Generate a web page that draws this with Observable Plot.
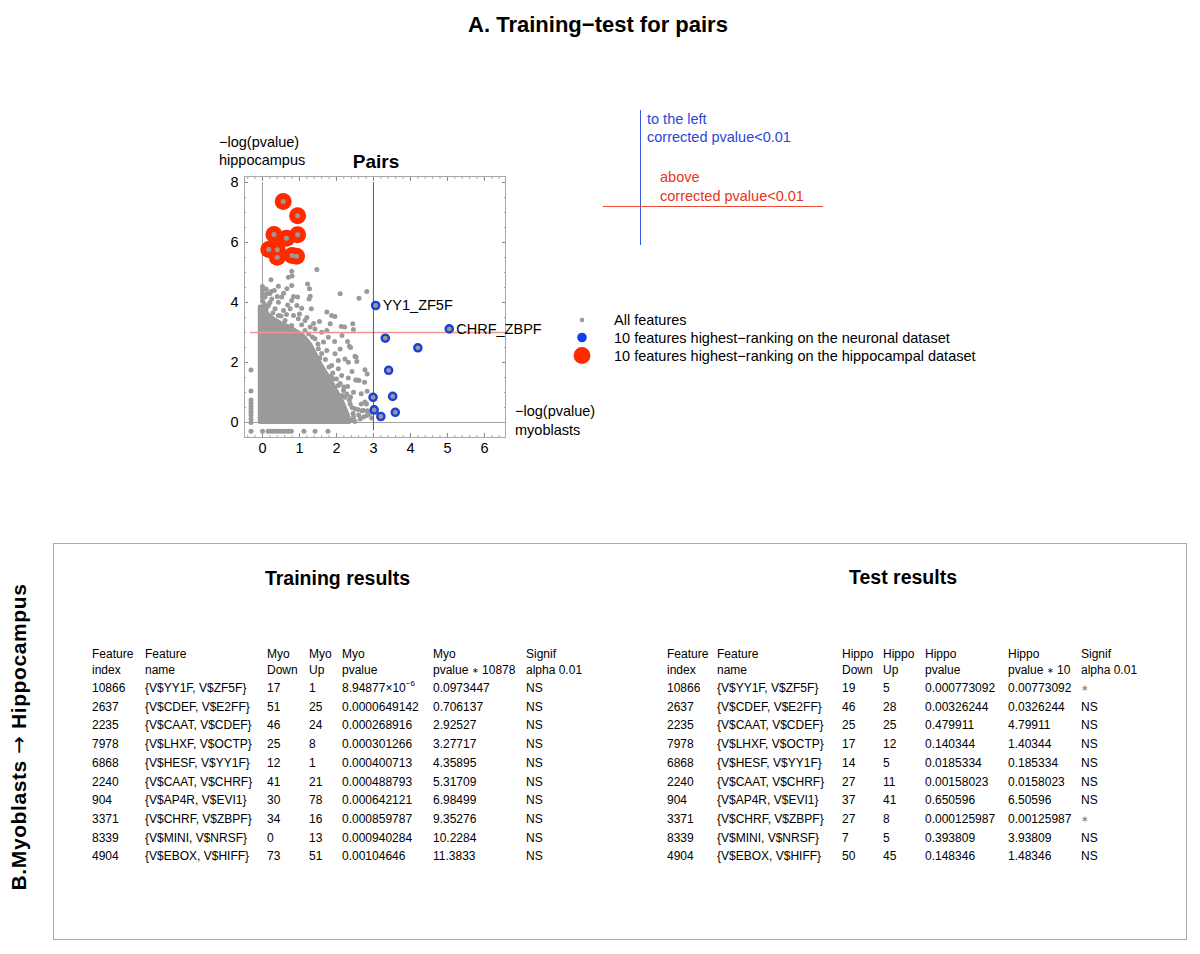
<!DOCTYPE html>
<html><head><meta charset="utf-8">
<script src="https://cdn.jsdelivr.net/npm/d3@7"></script>
<script src="https://cdn.jsdelivr.net/npm/@observablehq/plot@0.6"></script>
<style>
body{margin:0;background:#fff;font-family:"Liberation Sans",Arial,Helvetica,sans-serif;color:#000;}
#page{position:relative;width:1200px;height:954px;overflow:hidden;background:#fff;}
.t{position:absolute;white-space:nowrap;line-height:1;}
#plotA{position:absolute;left:200px;top:130px;}
#overlay{position:absolute;left:0;top:0;}
.ast{font-size:8px;vertical-align:1px;}
.arr{font-family:"DejaVu Sans",sans-serif;font-weight:normal;}
</style></head><body><div id="page"></div>
<script>
// ---------- Panel A data ----------
const xTicks = [0, 1, 2, 3, 4, 5, 6];
const yTicks = [0, 2, 4, 6, 8];
const thresholdX = 3;   // -log(p) myoblasts, corrected p < 0.01
const thresholdY = 3;   // -log(p) hippocampus, corrected p < 0.01

// dense core of "All features" (outline of the solid cloud)
const coreX   = [-0.06, 0.05, 0.15, 0.3, 0.5, 0.7, 0.9, 1.1, 1.3, 1.45, 1.6, 1.75, 1.9, 2.05, 2.2, 2.3, 2.36];
const coreTop = [3.85, 3.85, 3.6, 3.45, 3.3, 3.2, 3.05, 2.9, 2.6, 2.25, 1.9, 1.6, 1.3, 0.95, 0.6, 0.3, 0.08];

// individual "All features" points outside the core
const allFeatures = [
  [0,4.53],[0,4.42],[0,4.29],[0,4.18],[0,4.05],[0.1,4.45],[0.12,4.3],[0.05,3.95],[0.2,4.0],[0.1,3.8],
  [0.23,4.76],[0.23,4.37],[0.32,4.4],[0.43,4.54],[0.66,4.46],[0.7,4.84],[0.79,5.04],[0.79,4.57],[0.8,4.88],
  [1.22,4.62],[1.27,4.46],[1.47,5.1],[0.57,4.31],[0.52,4.18],[0.84,4.2],[0.95,4.18],[1.29,4.21],[1.26,4.12],
  [0.25,4.12],[0.07,4.18],[0.43,4.01],[0.68,3.92],[0.79,4.07],[0.93,3.9],[0.16,3.9],[0.34,3.79],[0.57,3.73],
  [0.75,3.79],[1.06,3.81],[1.32,3.79],[1.74,3.68],[1.87,3.57],[1.96,3.53],[1.54,3.37],[1.83,3.29],[1.06,3.26],
  [1.29,3.18],[2.13,3.2],[2.22,3.18],[2.44,3.29],[2.46,3.1],[2.1,4.29],[2.82,4.37],[2.61,4.14],[0.84,3.57],
  [0.97,3.46],[1.15,3.4],[0.61,3.4],[0.43,3.57],[0.79,3.23],[1.42,3.12],[1.6,3.01],[1.74,3.07],[1.15,3.07],
  [0.28,3.65],[0.5,3.55],[0.65,3.6],[1.0,3.62],[1.2,3.5],[1.38,3.3],[0.2,4.3],[0.4,4.2],
  [1.42,2.79],[1.65,2.68],[1.78,2.84],[1.51,2.46],[1.74,2.4],[1.96,2.29],[2.05,2.07],[2.23,2.12],[1.87,1.9],
  [2.05,1.79],[2.14,1.57],[1.92,1.46],[2.05,1.23],[2.19,1.07],[2.23,0.84],
  [2.35,2.54],[2.5,2.21],[2.55,2.03],[2.32,2.01],[2.77,1.76],[2.32,1.48],[2.52,1.42],[2.61,1.4],[2.76,1.34],
  [2.46,1.01],[2.67,0.96],[2.77,0.68],[2.37,0.62],[2.5,0.46],[2.58,0.43],[2.73,0.4],[2.82,0.23],[2.73,0.18],
  [2.64,0.12],[2.46,0.18],[2.5,0.03],[2.32,0.07],[2.19,0.12],[2.38,2.5],[2.53,2.18],[2.83,1.62],[2.56,1.42],
  [2.83,1.04],[2.67,0.62],[2.81,0.62],[2.69,0.39],[2.83,0.39],[2.38,0.85],[2.3,1.2],[2.42,1.7],[2.1,2.45],
  [2.3,2.7],[1.95,2.7],[2.15,2.9],[2.45,0.3],[2.6,0.25],[2.9,0.3],[2.95,0.15],
  [1.35,2.85],[1.5,2.62],[1.6,2.3],[1.7,2.1],[1.8,1.85],[1.9,1.65],[2.0,1.45],[2.1,1.3],[2.2,1.18],
  [2.28,0.95],[2.35,0.75],[2.42,0.5],[2.45,0.08],[1.25,2.95],[1.55,2.15],[1.85,1.55],[2.15,0.9],
  // features missing one p-value, drawn at -0.3
  [-0.31,1.75],[-0.31,1.05],[-0.31,0.75],[-0.31,0.65],[-0.31,0.55],[-0.31,0.45],[-0.31,0.35],[-0.31,0.25],
  [-0.31,0.12],[-0.31,0.0],[-0.31,-0.29],
  [0,-0.29],[0.15,-0.29],[0.22,-0.29],[0.3,-0.29],[0.38,-0.29],[0.46,-0.29],[0.54,-0.29],[0.62,-0.29],
  [0.7,-0.29],[0.78,-0.29],[1.12,-0.29],[1.42,-0.29],[1.77,-0.29]
];

// 10 features highest-ranking on the hippocampal dataset
const hippoX = [0.56, 0.95, 0.31, 0.65, 0.95, 0.17, 0.40, 0.40, 0.80, 0.92];
const hippoY = [7.37, 6.89, 6.27, 6.14, 6.26, 5.77, 5.76, 5.51, 5.57, 5.54];

// 10 features highest-ranking on the neuronal dataset
const neuroX = [3.06, 5.05, 3.32, 4.2, 3.41, 2.99, 3.52, 3.02, 3.2, 3.59];
const neuroY = [3.9, 3.12, 2.81, 2.49, 1.74, 0.84, 0.87, 0.42, 0.2, 0.34];
const neuroLabel = ["YY1_ZF5F", "CHRF_ZBPF", "", "", "", "", "", "", "", ""];

const legendLabels = ["All features", "10 features highest\u2212ranking on the neuronal dataset", "10 features highest\u2212ranking on the hippocampal dataset"];

// ---------- Panel B data ----------
const featIndex = [10866, 2637, 2235, 7978, 6868, 2240, 904, 3371, 8339, 4904];
const featName = ["{V$YY1F, V$ZF5F}","{V$CDEF, V$E2FF}","{V$CAAT, V$CDEF}","{V$LHXF, V$OCTP}","{V$HESF, V$YY1F}",
                  "{V$CAAT, V$CHRF}","{V$AP4R, V$EVI1}","{V$CHRF, V$ZBPF}","{V$MINI, V$NRSF}","{V$EBOX, V$HIFF}"];
const myoDown = [17, 51, 46, 25, 12, 41, 30, 34, 0, 73];
const myoUp = [1, 25, 24, 8, 1, 21, 78, 16, 13, 51];
const myoP = ["8.94877\u00d710<sup>\u22126</sup>","0.0000649142","0.000268916","0.000301266","0.000400713",
              "0.000488793","0.000642121","0.000859787","0.000940284","0.00104646"];
const myoPcorr = ["0.0973447","0.706137","2.92527","3.27717","4.35895","5.31709","6.98499","9.35276","10.2284","11.3833"];
const myoSig = ["NS","NS","NS","NS","NS","NS","NS","NS","NS","NS"];
const hipDown = [19, 46, 25, 17, 14, 27, 37, 27, 7, 50];
const hipUp = [5, 28, 25, 12, 5, 11, 41, 8, 5, 45];
const hipP = ["0.000773092","0.00326244","0.479911","0.140344","0.0185334","0.00158023","0.650596","0.000125987","0.393809","0.148346"];
const hipPcorr = ["0.00773092","0.0326244","4.79911","1.40344","0.185334","0.0158023","6.50596","0.00125987","3.93809","1.48346"];
const hipSig = ["\u2217","NS","NS","NS","NS","NS","NS","\u2217","NS","NS"];
const trainHeaders = [["Feature","index"],["Feature","name"],["Myo","Down"],["Myo","Up"],["Myo","pvalue"],["Myo","pvalue <span class='ast'>\u2217</span> 10878"],["Signif","alpha 0.01"]];
const testHeaders = [["Feature","index"],["Feature","name"],["Hippo","Down"],["Hippo","Up"],["Hippo","pvalue"],["Hippo","pvalue <span class='ast'>\u2217</span> 10"],["Signif","alpha 0.01"]];

// ---------- helpers ----------
const page = document.getElementById("page");
function txt(html, x, y, o = {}) {
  const d = document.createElement("div");
  d.className = "t";
  d.innerHTML = html;
  d.style.left = x + "px";
  d.style.top = y + "px";
  d.style.fontSize = (o.size || 14) + "px";
  if (o.bold) d.style.fontWeight = "bold";
  if (o.color) d.style.color = o.color;
  if (o.spacing) d.style.letterSpacing = o.spacing + "px";
  d.style.transform = `translate(${o.center ? "-50%" : "0"},-50%)` + (o.rotate ? ` rotate(${o.rotate}deg)` : "");
  page.appendChild(d);
  return d;
}

// ---------- Panel A: scatter ----------
const hippo = hippoX.map((x, i) => ({x, y: hippoY[i]}));
const neuro = neuroX.map((x, i) => ({x, y: neuroY[i], label: neuroLabel[i]}));
const core = coreX.map((x, i) => ({x, y: coreTop[i]}));
const grey = "#9a9a9a";
const frameGrey = "#a8a8a8";
const xMinor = d3.range(-0.4, 6.6, 0.2).map(v => +v.toFixed(1));
const yMinor = d3.range(-0.5, 8.3, 0.5);
const intFmt = d3.format("d");

const plotA = Plot.plot({
  width: 360, height: 340,
  marginLeft: 44, marginRight: 55, marginTop: 46, marginBottom: 33,
  style: {fontFamily: "'Liberation Sans', Arial, sans-serif", fontSize: "14.5px", background: "transparent", overflow: "visible", color: "#000"},
  x: {domain: [-0.486, 6.57]},
  y: {domain: [-0.5, 8.2]},
  marks: [
    Plot.axisX({ticks: xMinor, anchor: "bottom", tickSize: -2, fill: "none", stroke: frameGrey, label: null}),
    Plot.axisX({ticks: xMinor, anchor: "top", tickSize: -2, fill: "none", stroke: frameGrey, label: null}),
    Plot.axisX({ticks: xTicks, anchor: "bottom", tickSize: -4, fill: "none", stroke: "#888", label: null}),
    Plot.axisX({ticks: xTicks, anchor: "top", tickSize: -4, fill: "none", stroke: "#888", label: null}),
    Plot.axisX({ticks: xTicks, anchor: "bottom", tickSize: 0, tickPadding: 5, tickFormat: intFmt, label: null}),
    Plot.axisY({ticks: yMinor, anchor: "left", tickSize: -2, fill: "none", stroke: frameGrey, label: null}),
    Plot.axisY({ticks: yMinor, anchor: "right", tickSize: -2, fill: "none", stroke: frameGrey, label: null}),
    Plot.axisY({ticks: yTicks, anchor: "left", tickSize: -4, fill: "none", stroke: "#888", label: null}),
    Plot.axisY({ticks: yTicks, anchor: "right", tickSize: -4, fill: "none", stroke: "#888", label: null}),
    Plot.axisY({ticks: yTicks, anchor: "left", tickSize: 0, tickPadding: 6, tickFormat: intFmt, label: null}),
    Plot.frame({stroke: frameGrey}),
    Plot.ruleY([0], {stroke: "#a0a0a0"}),
    Plot.ruleX([0], {y1: 0, y2: 8, stroke: "#a0a0a0"}),
    Plot.areaY(core, {x: "x", y1: 0, y2: "y", fill: grey, stroke: grey, strokeWidth: 4, strokeLinejoin: "round"}),
    Plot.dot(allFeatures, {x: d => d[0], y: d => d[1], r: 2.5, fill: grey}),
    Plot.ruleY([thresholdY], {x1: -0.32, x2: 6.57, stroke: "#f0968c", strokeWidth: 1.3}),
    Plot.ruleX([thresholdX], {y1: -0.28, y2: 8, stroke: "#3a58e0", strokeWidth: 1}),
    Plot.dot(hippo, {x: "x", y: "y", r: 8.5, fill: "#ff2a00"}),
    Plot.dot(hippo, {x: "x", y: "y", r: 2.5, fill: grey}),
    Plot.dot(neuro, {x: "x", y: "y", r: 3.6, fill: grey, stroke: "#1c3fd4", strokeWidth: 2.4}),
    Plot.text(neuro.filter(d => d.label), {x: "x", y: "y", text: "label", textAnchor: "start", dx: 7, fontSize: 14.5, fill: "#000"})
  ]
});
plotA.id = "plotA";
page.appendChild(plotA);

// panel A texts
txt("A. Training\u2212test for pairs", 598, 25, {size: 22, bold: true, center: true});
txt("\u2212log(pvalue)", 219, 142, {size: 14.5});
txt("hippocampus", 219, 160, {size: 14.5});
txt("Pairs", 376, 161, {size: 19, bold: true, center: true});
txt("\u2212log(pvalue)", 515, 411, {size: 14.5});
txt("myoblasts", 515, 430, {size: 14.5});
txt("to the left", 647, 119, {size: 14.5, color: "#2a48d6"});
txt("corrected pvalue&lt;0.01", 647, 137, {size: 14.5, color: "#2a48d6"});
txt("above", 660, 177, {size: 14.5, color: "#e83420"});
txt("corrected pvalue&lt;0.01", 660, 196, {size: 14.5, color: "#e83420"});
const legY = [320, 337.5, 355.5];
legendLabels.forEach((s, i) => txt(s, 614, legY[i], {size: 14.5}));

// overlay decorations (annotation key, legend swatches, panel B box)
const ov = d3.select(page).append("svg").attr("id", "overlay").attr("width", 1200).attr("height", 954);
ov.append("line").attr("x1", 640.5).attr("x2", 640.5).attr("y1", 110).attr("y2", 245).attr("stroke", "#3a58e0").attr("stroke-width", 1);
ov.append("line").attr("x1", 603).attr("x2", 823).attr("y1", 206.5).attr("y2", 206.5).attr("stroke", "#ec4a36").attr("stroke-width", 1);
ov.append("circle").attr("cx", 582).attr("cy", legY[0]).attr("r", 2.3).attr("fill", grey);
ov.append("circle").attr("cx", 582).attr("cy", legY[1]).attr("r", 4.8).attr("fill", "#1040f0");
ov.append("circle").attr("cx", 582).attr("cy", legY[2]).attr("r", 8.4).attr("fill", "#ff2a00");
ov.append("rect").attr("x", 53.5).attr("y", 543.5).attr("width", 1133).attr("height", 396).attr("fill", "none").attr("stroke", "#aaa").attr("stroke-width", 1);

// ---------- Panel B ----------
txt("B.Myoblasts <span class='arr'>\u2192</span> Hippocampus", 18.5, 737, {size: 21, bold: true, center: true, rotate: -90, spacing: 0.6});
txt("Training results", 337.5, 579, {size: 19.5, bold: true, center: true});
txt("Test results", 903, 578, {size: 19.5, bold: true, center: true});

const headY = [654, 669.5];
const rowY0 = 688, rowStep = 18.7;
function table(colX, headers, cols) {
  headers.forEach((h, c) => h.forEach((s, k) => txt(s, colX[c], headY[k], {size: 12})));
  cols.forEach((col, c) => col.forEach((v, r) => {
    const star = v === "\u2217";
    txt(String(v), colX[c], rowY0 + r * rowStep, star ? {size: 9, color: "#777"} : {size: 12});
  }));
}
table([92, 145, 267, 309, 342, 433, 526], trainHeaders, [featIndex, featName, myoDown, myoUp, myoP, myoPcorr, myoSig]);
table([667, 717, 842, 883, 925, 1008, 1081], testHeaders, [featIndex, featName, hipDown, hipUp, hipP, hipPcorr, hipSig]);
document.querySelectorAll("sup").forEach(s => { s.style.fontSize = "8px"; s.style.verticalAlign = "6px"; s.style.lineHeight = "0"; });
</script></body></html>
